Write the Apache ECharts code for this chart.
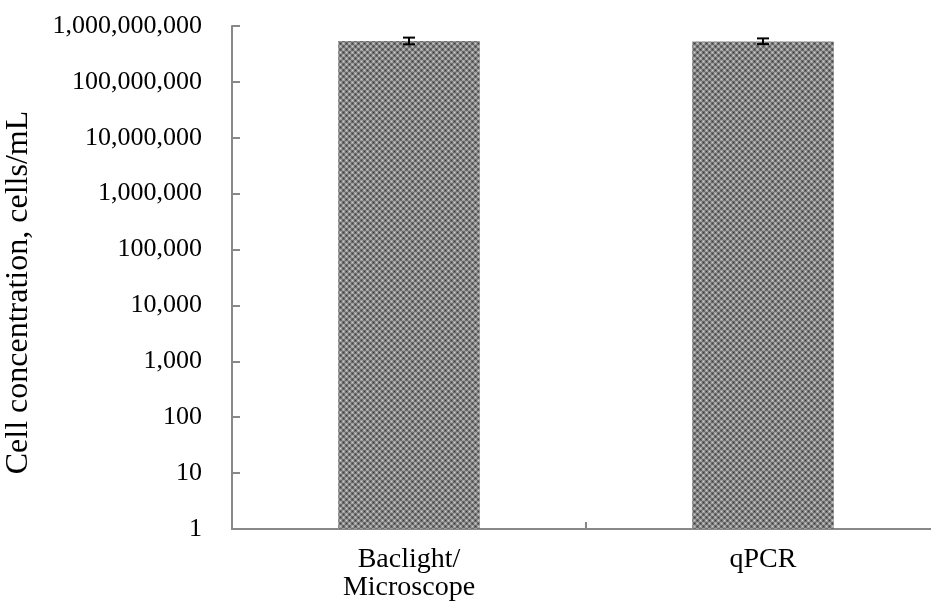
<!DOCTYPE html>
<html>
<head>
<meta charset="utf-8">
<script src="https://cdn.jsdelivr.net/npm/echarts@6/dist/echarts.min.js"></script>
<style>
  html, body { margin: 0; padding: 0; background: #fff; }
  #chart { width: 931px; height: 604px; }
</style>
</head>
<body>
<div id="chart"></div>
<script>
// Cell counts by method (cells/mL), with error ranges
const categories = ['Baclight/\nMicroscope', 'qPCR'];
const meanValues = [540000000, 530000000];
const errorLow = [470000000, 475000000];
const errorHigh = [620000000, 600000000];
const yTickValues = [1, 10, 100, 1000, 10000, 100000, 1000000, 10000000, 100000000, 1000000000];

// Small checkered fill for the bars
function makePattern() {
  const c = document.createElement('canvas');
  c.width = 6; c.height = 6;
  const g = c.getContext('2d');
  g.fillStyle = '#6c6c6c';
  g.fillRect(0, 0, 6, 6);
  g.fillStyle = '#9c9c9c';
  g.fillRect(0, 0, 3, 3);
  g.fillRect(3, 3, 3, 3);
  g.fillStyle = '#cfcfcf';
  g.fillRect(1, 1, 1, 1);
  g.fillRect(4, 4, 1, 1);
  g.fillStyle = '#3e3e3e';
  g.fillRect(4, 1, 1, 1);
  g.fillRect(1, 4, 1, 1);
  return c;
}

const serif = '"Liberation Serif", "DejaVu Serif", serif';
const chart = echarts.init(document.getElementById('chart'), null, { renderer: 'canvas' });

chart.setOption({
  animation: false,
  grid: { left: 232, top: 26, width: 708, height: 503, containLabel: false, outerBoundsMode: 'none' },
  xAxis: {
    type: 'category',
    data: categories,
    axisLine: { lineStyle: { color: '#888888', width: 2 } },
    axisTick: { show: true, inside: true, length: 7, lineStyle: { color: '#888888', width: 2 } },
    axisLabel: {
      color: '#000', fontFamily: serif, fontSize: 28, lineHeight: 28, margin: 17
    }
  },
  yAxis: {
    type: 'log',
    logBase: 10,
    min: 1,
    max: 1000000000,
    name: 'Cell concentration, cells/mL',
    nameLocation: 'middle',
    nameGap: 197,
    nameRotate: 90,
    nameTextStyle: { color: '#000', fontFamily: serif, fontSize: 32, padding: [0, 30, 0, 0] },
    axisLine: { show: true, lineStyle: { color: '#888888', width: 2 } },
    axisTick: { show: true, inside: true, length: 8, lineStyle: { color: '#888888', width: 2 } },
    splitLine: { show: false },
    axisLabel: {
      color: '#000', fontFamily: serif, fontSize: 26, margin: 30,
      formatter: v => {
        const r = yTickValues.find(t => Math.abs(Math.log10(t) - Math.log10(v)) < 1e-6);
        return (r !== undefined ? r : Math.round(v)).toLocaleString('en-US');
      }
    }
  },
  series: [
    {
      type: 'bar',
      data: meanValues,
      barWidth: '40%',
      itemStyle: { color: { image: makePattern(), repeat: 'repeat' } }
    },
    {
      type: 'custom',
      data: categories.map((c, i) => [i, errorLow[i], errorHigh[i]]),
      renderItem: (params, api) => {
        const lo = api.coord([api.value(0), api.value(1)]);
        const hi = api.coord([api.value(0), api.value(2)]);
        const half = 6;
        const style = { stroke: '#000', lineWidth: 2 };
        return {
          type: 'group',
          children: [
            { type: 'line', shape: { x1: lo[0], y1: lo[1], x2: hi[0], y2: hi[1] }, style },
            { type: 'line', shape: { x1: lo[0] - half, y1: lo[1], x2: lo[0] + half, y2: lo[1] }, style },
            { type: 'line', shape: { x1: hi[0] - half, y1: hi[1], x2: hi[0] + half, y2: hi[1] }, style }
          ]
        };
      },
      z: 10
    }
  ]
});
</script>
</body>
</html>
